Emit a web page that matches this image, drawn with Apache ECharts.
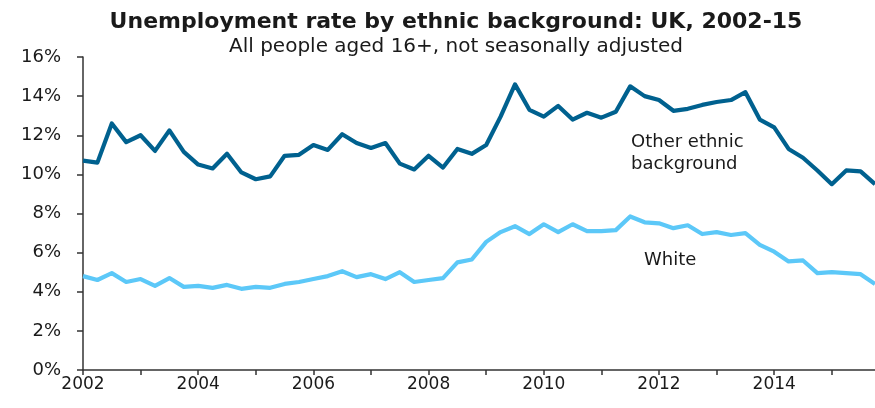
<!DOCTYPE html>
<html>
<head>
<meta charset="utf-8">
<script src="https://cdn.jsdelivr.net/npm/echarts@6/dist/echarts.min.js"></script>
<style>
html,body{margin:0;padding:0;background:#fff;}
#chart{width:875px;height:408px;}
</style>
</head>
<body>
<div id="chart"></div>
<script>
var categories = [
 'Q1 2002','Q2 2002','Q3 2002','Q4 2002','Q1 2003','Q2 2003','Q3 2003','Q4 2003',
 'Q1 2004','Q2 2004','Q3 2004','Q4 2004','Q1 2005','Q2 2005','Q3 2005','Q4 2005',
 'Q1 2006','Q2 2006','Q3 2006','Q4 2006','Q1 2007','Q2 2007','Q3 2007','Q4 2007',
 'Q1 2008','Q2 2008','Q3 2008','Q4 2008','Q1 2009','Q2 2009','Q3 2009','Q4 2009',
 'Q1 2010','Q2 2010','Q3 2010','Q4 2010','Q1 2011','Q2 2011','Q3 2011','Q4 2011',
 'Q1 2012','Q2 2012','Q3 2012','Q4 2012','Q1 2013','Q2 2013','Q3 2013','Q4 2013',
 'Q1 2014','Q2 2014','Q3 2014','Q4 2014','Q1 2015','Q2 2015','Q3 2015','Q4 2015'
];
var otherEthnic = [
 10.7,10.6,12.6,11.65,12.0,11.2,12.25,11.15,
 10.5,10.3,11.05,10.1,9.75,9.9,10.95,11.0,
 11.5,11.25,12.05,11.6,11.35,11.6,10.55,10.25,
 10.95,10.35,11.3,11.05,11.5,12.95,14.6,13.3,
 12.95,13.5,12.8,13.15,12.9,13.2,14.5,14.0,
 13.8,13.25,13.35,13.55,13.7,13.8,14.2,12.8,
 12.4,11.3,10.85,10.2,9.5,10.2,10.15,9.5
];
var white = [
 4.8,4.6,4.95,4.5,4.65,4.3,4.7,4.25,
 4.3,4.2,4.35,4.15,4.25,4.2,4.4,4.5,
 4.65,4.8,5.05,4.75,4.9,4.65,5.0,4.5,
 4.6,4.7,5.5,5.65,6.55,7.05,7.35,6.95,
 7.45,7.05,7.45,7.1,7.1,7.15,7.85,7.55,
 7.5,7.25,7.4,6.95,7.05,6.9,7.0,6.4,
 6.05,5.55,5.6,4.95,5.0,4.95,4.9,4.4
];
var yTicks = [0,2,4,6,8,10,12,14,16];

var FONT = 'DejaVu Sans';
var chart = echarts.init(document.getElementById('chart'), null, {renderer:'canvas'});
chart.setOption({
  animation:false,
  backgroundColor:'#ffffff',
  title:{
    text:'Unemployment rate by ethnic background: UK, 2002-15',
    subtext:'All people aged 16+, not seasonally adjusted',
    left:451, textAlign:'center', top:5, itemGap:2,
    textStyle:{fontFamily:FONT, fontSize:22, fontWeight:'bold', color:'#1a1a1a', lineHeight:24},
    subtextStyle:{fontFamily:FONT, fontSize:20, color:'#1a1a1a', lineHeight:22}
  },
  grid:{left:83, right:-3, top:57, bottom:38, containLabel:false},
  xAxis:{
    type:'category', data:categories, boundaryGap:false,
    axisLine:{show:true, lineStyle:{color:'#333', width:1.5}},
    axisTick:{show:true, length:5, inside:false, interval:function(i){return i%4===0;}, lineStyle:{color:'#333', width:1.5}},
    axisLabel:{interval:function(i){return i%8===0;}, formatter:function(v){return v.slice(3);}, margin:6,
      fontFamily:FONT, fontSize:17, color:'#1a1a1a'},
    splitLine:{show:false}
  },
  yAxis:{
    type:'value', min:yTicks[0], max:yTicks[yTicks.length-1], interval:2,
    axisLine:{show:true, lineStyle:{color:'#333', width:1.5}},
    axisTick:{show:true, length:6, lineStyle:{color:'#333', width:1.5}},
    axisLabel:{formatter:'{value}%', margin:22, fontFamily:FONT, fontSize:18, color:'#1a1a1a'},
    splitLine:{show:false}
  },
  series:[
    {name:'Other ethnic background', type:'line', data:otherEthnic, symbol:'none',
     lineStyle:{color:'#00618f', width:4.2, join:'round'}, itemStyle:{color:'#00618f'}},
    {name:'White', type:'line', data:white, symbol:'none',
     lineStyle:{color:'#5cc8f8', width:4.2, join:'round'}, itemStyle:{color:'#5cc8f8'}}
  ],
  graphic:[
    {type:'text', left:631, top:131, style:{text:'Other ethnic\nbackground', fontFamily:FONT, fontSize:18, lineHeight:22, fill:'#1a1a1a'}},
    {type:'text', left:644, top:249, style:{text:'White', fontFamily:FONT, fontSize:18, lineHeight:22, fill:'#1a1a1a'}}
  ]
});
</script>
</body>
</html>
